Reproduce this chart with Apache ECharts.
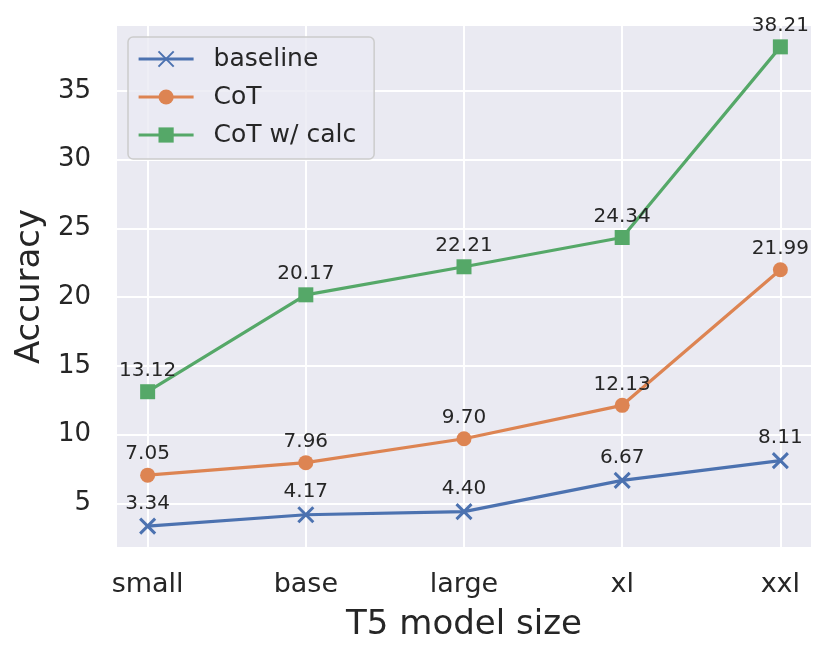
<!DOCTYPE html>
<html>
<head>
<meta charset="utf-8">
<script src="https://cdn.jsdelivr.net/npm/echarts@6/dist/echarts.min.js"></script>
<style>
html, body { margin: 0; padding: 0; background: #ffffff; }
#chart1 { width: 831px; height: 660px; }
</style>
</head>
<body>
<div id="chart1"></div>
<script>
var sizes = ['small', 'base', 'large', 'xl', 'xxl'];
var baseline = [3.34, 4.17, 4.40, 6.67, 8.11];
var cot = [7.05, 7.96, 9.70, 12.13, 21.99];
var cotCalc = [13.12, 20.17, 22.21, 24.34, 38.21];

var font = 'DejaVu Sans';
var ink = '#262626';

function pts(arr) {
    return arr.map(function (v, i) { return [i, v]; });
}

function makeSeries(name, arr, color, symbol, size) {
    return {
        name: name,
        type: 'line',
        data: pts(arr),
        symbol: symbol,
        symbolSize: size,
        lineStyle: { color: color, width: 3.2 },
        itemStyle: { color: color, borderColor: color, borderWidth: symbol.indexOf('path') === 0 ? 3 : 0 },
        label: {
            show: true,
            position: 'top',
            distance: 11 - size / 2,
            fontFamily: font,
            fontSize: 20,
            lineHeight: 20,
            color: ink,
            formatter: function (p) { return p.value[1].toFixed(2); }
        },
        emphasis: { disabled: true },
        z: 3
    };
}

var myChart1 = echarts.init(document.getElementById('chart1'));
myChart1.setOption({
    animation: false,
    backgroundColor: '#ffffff',
    grid: {
        left: 116, right: 19, top: 25, bottom: 112,
        show: true, backgroundColor: '#eaeaf2', borderWidth: 0
    },
    legend: {
        orient: 'vertical',
        left: 128, top: 37,
        padding: [8, 18, 10, 9],
        itemGap: 10,
        itemWidth: 55,
        itemHeight: 19,
        backgroundColor: 'rgba(234,234,242,0.8)',
        borderColor: '#cccccc',
        borderWidth: 1.5,
        borderRadius: 5,
        lineStyle: { width: 3.2 },
        textStyle: { fontFamily: font, fontSize: 25, lineHeight: 28, color: ink, padding: [0, 0, 0, 15] },
        data: ['baseline', 'CoT', 'CoT w/ calc']
    },
    xAxis: {
        type: 'value',
        min: -0.2, max: 4.2,
        name: 'T5 model size',
        nameLocation: 'middle',
        nameGap: 60,
        nameTextStyle: { fontFamily: font, fontSize: 34, lineHeight: 34, color: ink },
        axisLine: { show: false },
        axisTick: { show: false },
        axisLabel: {
            margin: 23,
            fontFamily: font, fontSize: 27, lineHeight: 28, color: ink,
            showMinLabel: false, showMaxLabel: false,
            formatter: function (v) { return Number.isInteger(v) ? sizes[v] : ''; }
        },
        splitLine: { show: true, lineStyle: { color: '#ffffff', width: 2 } }
    },
    yAxis: {
        type: 'value',
        min: 1.75, max: 39.8,
        splitNumber: 8,
        name: 'Accuracy',
        nameLocation: 'middle',
        nameGap: 67,
        nameTextStyle: { fontFamily: font, fontSize: 34, lineHeight: 34, color: ink },
        axisLine: { show: false },
        axisTick: { show: false },
        axisLabel: {
            margin: 25,
            fontFamily: font, fontSize: 26, color: ink,
            showMinLabel: false, showMaxLabel: false,
            formatter: function (v) { return v % 5 === 0 ? String(v) : ''; }
        },
        splitLine: { show: true, lineStyle: { color: '#ffffff', width: 2 } }
    },
    series: [
        makeSeries('baseline', baseline, '#4c72b0', 'path://M0,0L10,10M0,10L10,0', 15),
        makeSeries('CoT', cot, '#dd8452', 'circle', 15),
        makeSeries('CoT w/ calc', cotCalc, '#55a868', 'rect', 15)
    ]
});
</script>
</body>
</html>
